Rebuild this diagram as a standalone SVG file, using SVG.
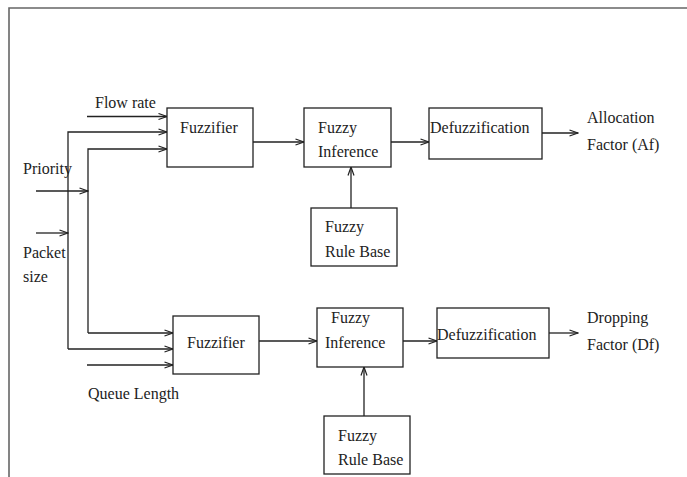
<svg xmlns="http://www.w3.org/2000/svg" width="687" height="477" viewBox="0 0 687 477">
<style>
.box{fill:#fff;stroke:#222;stroke-width:1.3}
.ln{fill:none;stroke:#222;stroke-width:1.3}
.frame{fill:none;stroke:#666;stroke-width:1.6}
text{font-family:"Liberation Serif","Times New Roman",serif;font-size:16px;fill:#222}
</style>
<defs>
<marker id="arr" viewBox="0 0 10 8" refX="9.5" refY="4" markerWidth="10" markerHeight="8" markerUnits="userSpaceOnUse" orient="auto">
<path d="M1,1 L9.5,4 L1,7" fill="none" stroke="#222" stroke-width="1.2"/>
</marker>
</defs>
<rect width="687" height="477" fill="#fff"/>
<path class="frame" d="M9,477 V8 H687"/>
<g id="connectors">
<path class="ln" marker-end="url(#arr)" d="M87,116.5 H167"/>
<path class="ln" marker-end="url(#arr)" d="M68,349 V132 H167"/>
<path class="ln" marker-end="url(#arr)" d="M88,333 V149 H167"/>
<path class="ln" marker-end="url(#arr)" d="M36,191 H88"/>
<path class="ln" marker-end="url(#arr)" d="M36,233 H68"/>
<path class="ln" marker-end="url(#arr)" d="M88,333 H173"/>
<path class="ln" marker-end="url(#arr)" d="M68,349 H173"/>
<path class="ln" marker-end="url(#arr)" d="M87,365 H173"/>
<path class="ln" marker-end="url(#arr)" d="M253,142 H304"/>
<path class="ln" marker-end="url(#arr)" d="M391,142 H429"/>
<path class="ln" marker-end="url(#arr)" d="M542,133 H578"/>
<path class="ln" marker-end="url(#arr)" d="M351,208 V167"/>
<path class="ln" marker-end="url(#arr)" d="M259,341 H317"/>
<path class="ln" marker-end="url(#arr)" d="M403,341 H437"/>
<path class="ln" marker-end="url(#arr)" d="M549,333 H578"/>
<path class="ln" marker-end="url(#arr)" d="M364,416 V367"/>
</g>
<g id="labels">
<text x="95" y="108">Flow rate</text>
<text x="23" y="174">Priority</text>
<text x="23" y="258">Packet</text>
<text x="23" y="282">size</text>
<text x="88" y="399">Queue Length</text>
<text x="587" y="123">Allocation</text>
<text x="587" y="150">Factor (Af)</text>
<text x="587" y="323">Dropping</text>
<text x="587" y="350">Factor (Df)</text>
</g>
<g id="fuzzifier1">
<rect class="box" x="167" y="108" width="86" height="59"/>
<text x="180" y="133">Fuzzifier</text>
</g>
<g id="inference1">
<rect class="box" x="304" y="108" width="87" height="59"/>
<text x="318" y="133">Fuzzy</text>
<text x="318" y="157">Inference</text>
</g>
<g id="defuzz1">
<rect class="box" x="429" y="108" width="113" height="51"/>
<text x="430" y="133">Defuzzification</text>
</g>
<g id="rulebase1">
<rect class="box" x="311" y="208" width="86" height="58"/>
<text x="325" y="232">Fuzzy</text>
<text x="325" y="257">Rule Base</text>
</g>
<g id="fuzzifier2">
<rect class="box" x="173" y="316" width="86" height="58"/>
<text x="187" y="348">Fuzzifier</text>
</g>
<g id="inference2">
<rect class="box" x="317" y="308" width="86" height="59"/>
<text x="331" y="323">Fuzzy</text>
<text x="325" y="348">Inference</text>
</g>
<g id="defuzz2">
<rect class="box" x="437" y="308" width="112" height="50"/>
<text x="437" y="340">Defuzzification</text>
</g>
<g id="rulebase2">
<rect class="box" x="324" y="416" width="86" height="58"/>
<text x="338" y="441">Fuzzy</text>
<text x="338" y="465">Rule Base</text>
</g>
</svg>
